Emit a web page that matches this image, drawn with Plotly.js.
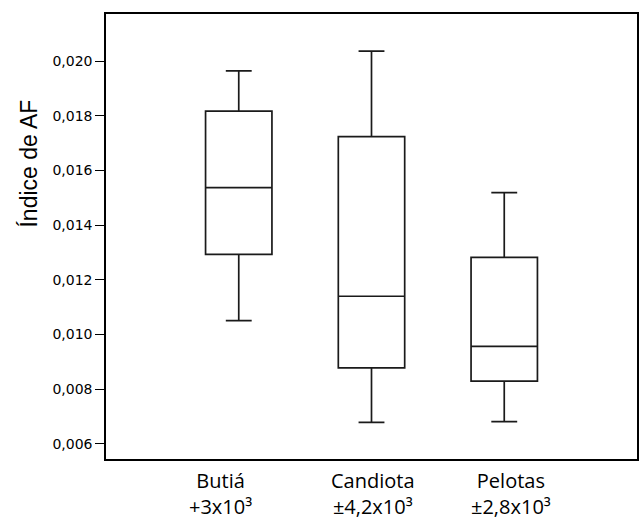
<!DOCTYPE html>
<html>
<head>
<meta charset="utf-8">
<script src="https://cdn.plot.ly/plotly-3.0.1.min.js"></script>
<style>html,body{margin:0;padding:0;background:#fff;}#chart{width:641px;height:521px;}</style>
</head>
<body>
<div id="chart"></div>
<script>
// Data
const sites = ["Butiá", "Candiota", "Pelotas"];
const sizeLabels = ["+3x10³", "±4,2x10³", "±2,8x10³"];
const lowerWhisker = [0.01051, 0.00679, 0.00682];
const q1Values = [0.01293, 0.00878, 0.00830];
const medianValues = [0.01537, 0.01140, 0.00957];
const q3Values = [0.01817, 0.01724, 0.01282];
const upperWhisker = [0.01964, 0.02036, 0.01519];
const yTickVals = [0.006, 0.008, 0.010, 0.012, 0.014, 0.016, 0.018, 0.020];

const positions = sites.map((s, i) => i);

const trace = {
  type: 'box',
  x: positions,
  q1: q1Values,
  median: medianValues,
  q3: q3Values,
  lowerfence: lowerWhisker,
  upperfence: upperWhisker,
  width: 0.5,
  whiskerwidth: 0.39,
  fillcolor: '#ffffff',
  line: {color: '#1a1a1a', width: 1.7},
  boxpoints: false,
  hoverinfo: 'skip',
  showlegend: false
};

// label horizontal offsets (px) as in the original
const labelShift = [-18, 1, 7];

const annotations = [];
sites.forEach((s, i) => {
  annotations.push({
    text: s + '<br>' + sizeLabels[i], x: positions[i], xref: 'x', y: 0, yref: 'paper',
    xanchor: 'center', yanchor: 'top', yshift: -6, xshift: labelShift[i],
    align: 'center', showarrow: false,
    font: {family: 'Open Sans', size: 20, color: '#000'}
  });
});
annotations.push({
  text: 'Índice de AF', textangle: -90, xref: 'paper', yref: 'paper',
  x: -0.145, y: 0.664, xanchor: 'center', yanchor: 'middle', showarrow: false,
  font: {family: 'Liberation Sans', size: 23, color: '#000'}
});

const layout = {
  width: 641, height: 521,
  margin: {l: 106, r: 4, t: 14, b: 62},
  paper_bgcolor: '#fff', plot_bgcolor: '#fff',
  separators: ',.',
  showlegend: false,
  xaxis: {
    range: [-1, 3], showgrid: false, zeroline: false,
    showticklabels: false, ticks: '',
    showline: true, mirror: true, linecolor: '#000', linewidth: 1.7
  },
  yaxis: {
    range: [0.00545, 0.02172], showgrid: false, zeroline: false,
    tickvals: yTickVals, tickformat: '.3f', ticks: 'outside', ticklen: 9,
    tickcolor: '#000', tickwidth: 1,
    tickfont: {family: 'DejaVu Sans', size: 14, color: '#000'},
    showline: true, mirror: true, linecolor: '#000', linewidth: 1.7
  },
  annotations: annotations
};

Plotly.newPlot('chart', [trace], layout, {displayModeBar: false, staticPlot: true});
</script>
</body>
</html>
